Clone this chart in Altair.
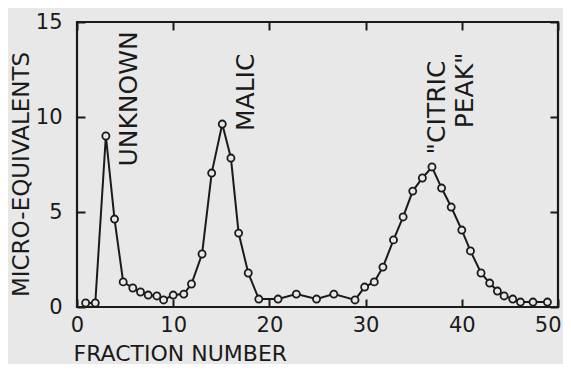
import altair as alt
import pandas as pd

# Fraction number (as drawn) and micro-equivalents
fraction = [0.9, 1.9, 3.0, 3.9, 4.8, 5.8, 6.6, 7.4, 8.3, 9.0, 10.0, 11.1, 11.9,
            13.0, 14.0, 15.1, 16.0, 16.8, 17.8, 18.9, 20.9, 22.8, 24.9, 26.7,
            28.9, 29.9, 30.9, 31.8, 32.9, 33.9, 34.9, 35.9, 36.9, 37.9, 38.9,
            40.0, 40.9, 42.0, 42.9, 43.7, 44.4, 45.3, 46.1, 47.4, 48.9]
micro_eq = [0.21, 0.21, 9.0, 4.63, 1.32, 1.0, 0.79, 0.63, 0.58, 0.37, 0.63, 0.68, 1.21,
            2.79, 7.05, 9.63, 7.84, 3.89, 1.79, 0.42, 0.42, 0.68, 0.42, 0.68,
            0.37, 1.05, 1.32, 2.1, 3.53, 4.74, 6.1, 6.79, 7.37, 6.26, 5.26,
            4.05, 2.95, 1.79, 1.26, 0.84, 0.58, 0.42, 0.26, 0.26, 0.26]

x_ticks = [0, 10, 20, 30, 40, 50]
y_ticks = [0, 5, 10, 15]

ann_text = ["UNKNOWN", "MALIC", '"CITRIC', 'PEAK"']
ann_x = [5.4, 17.55, 37.4, 40.3]
ann_y = [10.95, 11.3, 10.5, 11.4]

INK = "#1a1a1a"
BG = "#e8e8e8"
FONT = "DejaVu Sans"

df = pd.DataFrame({"frac": fraction, "val": micro_eq})
ann = pd.DataFrame({"label": ann_text, "ax": ann_x, "ay": ann_y})

xscale = alt.Scale(domain=[0, 50], nice=False, zero=False)
yscale = alt.Scale(domain=[0, 15], nice=False)

line = alt.Chart(df).mark_line(color=INK, strokeWidth=2).encode(
    x=alt.X("frac:Q", scale=xscale,
            axis=alt.Axis(orient="bottom", values=x_ticks, offset=-8, domain=False,
                          grid=False, tickSize=8, tickWidth=2, tickColor=INK,
                          labelPadding=7, labelFont=FONT, labelFontSize=21,
                          labelColor=INK, labelFlush=False,
                          labelAlign={"condition": {"test": "datum.value == 50",
                                                    "value": "right"},
                                      "value": "center"},
                          labelOffset={"condition": {"test": "datum.value == 50",
                                                     "value": 3},
                                       "value": 0},
                          title="FRACTION NUMBER", titleFont=FONT, titleFontSize=22,
                          titleFontWeight="normal", titleColor=INK,
                          titleX=-4, titleY=54, titleAlign="left",
                          titleBaseline="middle")),
    y=alt.Y("val:Q", scale=yscale,
            axis=alt.Axis(orient="left", values=y_ticks, offset=-8, domain=False,
                          grid=False, tickSize=8, tickWidth=2, tickColor=INK,
                          labelPadding=15, labelFont=FONT, labelFontSize=21,
                          labelColor=INK,
                          title="MICRO-EQUIVALENTS", titleFont=FONT, titleFontSize=23,
                          titleFontWeight="normal", titleColor=INK,
                          titleX=-64, titleY=152, titleAngle=270,
                          titleAlign="center", titleBaseline="middle")),
)

pts = alt.Chart(df).mark_point(shape="circle", fill=BG, fillOpacity=1, stroke=INK,
                               strokeWidth=1.8, size=50, opacity=1).encode(
    x=alt.X("frac:Q", scale=xscale,
            axis=alt.Axis(orient="top", values=x_ticks, offset=-8, domain=False,
                          grid=False, labels=False, tickSize=8, tickWidth=2,
                          tickColor=INK, title=None)),
    y=alt.Y("val:Q", scale=yscale,
            axis=alt.Axis(orient="right", values=y_ticks, offset=-8, domain=False,
                          grid=False, labels=False, tickSize=8, tickWidth=2,
                          tickColor=INK, title=None)),
)

txt = alt.Chart(ann).mark_text(angle=270, align="center", baseline="middle",
                               font=FONT, fontSize=25, color=INK).encode(
    x=alt.X("ax:Q", scale=xscale, axis=None),
    y=alt.Y("ay:Q", scale=yscale, axis=None),
    text="label:N",
)

chart = alt.layer(line, pts, txt).resolve_axis(
    x="independent", y="independent"
).properties(
    width=481, height=285,
    autosize=alt.AutoSizeParams(type="none"),
    padding={"left": 69, "top": 14, "right": 5, "bottom": 57},
    background=BG,
).configure_view(stroke=INK, strokeWidth=2.2)

chart.save("out.html", embed_options={"renderer": "svg", "actions": False})
